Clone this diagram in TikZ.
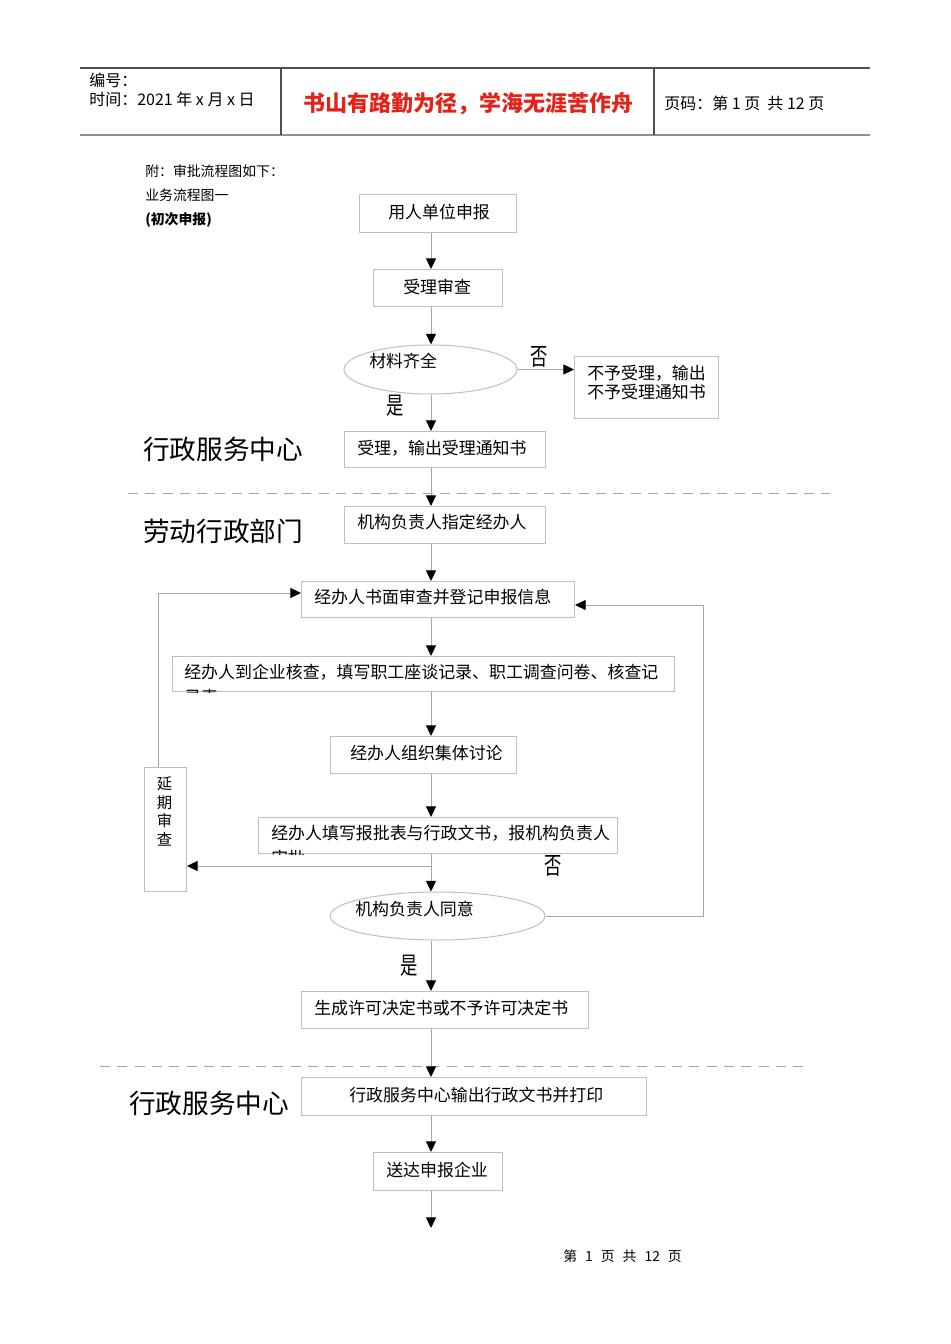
\documentclass[tikz,border=0pt]{standalone}
\usepackage{fontspec}
\setmainfont{Noto Sans CJK SC}
\usetikzlibrary{arrows.meta,shapes.geometric}
\definecolor{boxgray}{HTML}{BFBFBF}
\definecolor{linegray}{HTML}{A6A6A6}
\definecolor{titlered}{HTML}{E2231A}
\definecolor{hdrdark}{HTML}{505050}
\definecolor{hdrgray}{HTML}{909090}
\newcommand\mybox[5]{\node[box, anchor=north west, minimum width=#4*0.75pt, minimum height=#5*0.75pt] (#1) at (#2,#3) {};}
\newcommand\gp{\hspace{6pt}}
\begin{document}
\begin{tikzpicture}[x=0.75pt,y=-0.75pt,
  box/.style={draw=boxgray, line width=0.75pt, inner sep=0pt, rectangle},
  ell/.style={ellipse, draw=boxgray, line width=0.75pt, inner sep=0pt},
  txt/.style={anchor=west, inner sep=0pt, font=\fontsize{12.7}{15}\selectfont},
  small/.style={anchor=west, inner sep=0pt, font=\fontsize{10.4}{12}\selectfont},
  hdr/.style={anchor=west, inner sep=0pt, font=\fontsize{12}{14}\selectfont},
  big/.style={anchor=west, inner sep=0pt, font=\fontsize{20}{24}\selectfont},
  lab/.style={inner sep=0pt, font=\fontsize{13}{13}\selectfont},
  arr/.style={draw=linegray, line width=0.75pt, -{Triangle[width=7.5pt,length=8pt,color=black]}},
  ln/.style={draw=linegray, line width=0.75pt},
  sep/.style={draw=linegray, line width=0.75pt, dash pattern=on 7.5pt off 5.5pt}]
\useasboundingbox (0,0) rectangle (950,1344);
\fill[white] (0,0) rectangle (950,1344);

% header
\coordinate (h1) at (80,68); \coordinate (h2) at (870,68);
\coordinate (h3) at (80,135); \coordinate (h4) at (870,135);
\coordinate (v1) at (281,68); \coordinate (v2) at (654,68);
\draw[hdrdark, line width=0.8pt] (h1) -- (h2);
\draw[hdrgray, line width=1.5pt] (h3) -- (h4);
\draw[hdrdark, line width=0.8pt] (v1) -- (v1 |- h3);
\draw[hdrdark, line width=0.8pt] (v2) -- (v2 |- h3);
\node[hdr] (hn) at (89,80) {编号：};
\node[hdr] (ht) at (89,99) {时间：2021 年 x 月 x 日};
\node[inner sep=0pt, font=\fontsize{16.5}{18}\selectfont\bfseries, text=titlered] (title) at (468,104) {书山有路勤为径，学海无涯苦作舟};
\node[hdr] (hp) at (664,103) {页码：第 1 页\ \ 共 12 页};

% intro texts
\node[small] (i1) at (145,171) {附：审批流程图如下：};
\node[small] (i2) at (145,195) {业务流程图一};
\node[small, font=\fontsize{10.4}{12}\selectfont\bfseries] (i3) at (145,220) {(初次申报)};

\coordinate (mx) at (431,0);

% boxes
\mybox{b1}{359}{194}{157}{38}
\node[txt] (t1) at (388,212) {用人单位申报};
\mybox{b2}{373}{269}{129}{37}
\node[txt] (t2) at (403,287) {受理审查};
\node[ell, minimum width=173*0.75pt, minimum height=49*0.75pt] (e1) at (430.5,369.5) {};
\node[txt] (te1) at (369,361) {材料齐全};
\mybox{b4}{574}{356}{144}{62}
\node[txt] (t4a) at (587,373) {不予受理，输出};
\node[txt] (t4b) at (587,392) {不予受理通知书};
\mybox{b5}{344}{431}{201}{36}
\node[txt] (t5) at (357,448) {受理，输出受理通知书};
\mybox{b6}{344}{506}{201}{37}
\node[txt] (t6) at (357,522) {机构负责人指定经办人};
\mybox{b7}{301}{581}{273}{36}
\node[txt] (t7) at (314,597) {经办人书面审查并登记申报信息};
\mybox{b8}{172}{656}{502}{35}
\node[txt] (t8) at (184,672) {经办人到企业核查，填写职工座谈记录、职工调查问卷、核查记};
\begin{scope}
\clip (b8.north west) rectangle (b8.south east);
\node[txt] (t8b) at (184,697) {录表};
\end{scope}
\mybox{b9}{330}{736}{186}{37}
\node[txt] (t9) at (350,753) {经办人组织集体讨论};
\mybox{b10}{144}{767}{42}{124}
\node[inner sep=0pt, font=\fontsize{11.5}{14.2}\selectfont, align=center, anchor=north] (t10) at (164.5,776) {延\\期\\审\\查};
\mybox{b11}{258}{817}{359}{36}
\node[txt] (t11) at (271,833) {经办人填写报批表与行政文书，报机构负责人};
\begin{scope}
\clip (b11.north west) rectangle (b11.south east);
\node[txt] (t11b) at (271,858) {审批};
\end{scope}
\node[ell, minimum width=215*0.75pt, minimum height=48*0.75pt] (e2) at (437.5,916) {};
\node[txt] (te2) at (355,909) {机构负责人同意};
\mybox{b13}{301}{991}{287}{37}
\node[txt] (t13) at (314,1008) {生成许可决定书或不予许可决定书};
\mybox{b14}{301}{1077}{345}{38}
\node[txt] (t14) at (349,1095) {行政服务中心输出行政文书并打印};
\mybox{b15}{373}{1152}{129}{38}
\node[txt] (t15) at (386,1170) {送达申报企业};

% yes / no labels
\node[lab] (no1) at (539,357) {\scalebox{1}[1.4]{否}};
\node[lab] (yes1) at (395,406) {\scalebox{1}[1.4]{是}};
\node[lab] (no2) at (553,866) {\scalebox{1}[1.4]{否}};
\node[lab] (yes2) at (409,966) {\scalebox{1}[1.4]{是}};

% section labels
\node[big] (s1) at (143,449) {行政服务中心};
\node[big] (s2) at (143,531) {劳动行政部门};
\node[big] (s3) at (129,1103) {行政服务中心};

% dashed separators
\coordinate (d1a) at (128,493); \coordinate (d1b) at (830,493);
\coordinate (d2a) at (100,1066); \coordinate (d2b) at (803,1066);
\draw[sep] (d1a) -- (d1b);
\draw[sep] (d2a) -- (d2b);

% connectors
\draw[arr] (b1.south -| mx) -- (b2.north -| mx);
\draw[arr] (b2.south -| mx) -- (e1.north -| mx);
\draw[arr] (e1.east) -- (b4.west |- e1.east);
\draw[arr] (e1.south -| mx) -- (b5.north -| mx);
\draw[arr] (b5.south -| mx) -- (b6.north -| mx);
\draw[arr] (b6.south -| mx) -- (b7.north -| mx);
\draw[arr] (b7.south -| mx) -- (b8.north -| mx);
\draw[arr] (b8.south -| mx) -- (b9.north -| mx);
\draw[arr] (b9.south -| mx) -- (b11.north -| mx);
\draw[arr] (b11.south -| mx) -- (e2.north -| mx);
\coordinate (br) at (431,866);
\draw[arr] (br) -- (b10.east |- br);
\coordinate (r1) at (703,605);
\draw[arr] (e2.east) -| (r1) -- (b7.east |- r1);
\coordinate (l1) at (158,593);
\draw[arr] (b10.north -| l1) -- (l1) -- (b7.west |- l1);
\draw[arr] (e2.south -| mx) -- (b13.north -| mx);
\draw[arr] (b13.south -| mx) -- (b14.north -| mx);
\draw[arr] (b14.south -| mx) -- (b15.north -| mx);
\coordinate (end) at (431,1228);
\draw[arr] (b15.south -| mx) -- (end);

% footer
\node[small] (foot) at (563,1256) {第\gp 1\gp 页\gp 共\gp 12\gp 页};
\end{tikzpicture}
\end{document}
